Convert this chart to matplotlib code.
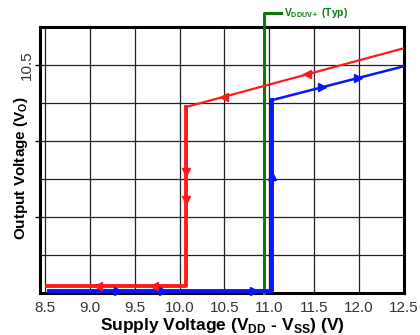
import matplotlib
matplotlib.use("Agg")
import matplotlib.pyplot as plt

plt.rcParams['font.family'] = ['Liberation Sans', 'DejaVu Sans']
plt.rcParams['mathtext.fontset'] = 'custom'
plt.rcParams['mathtext.rm'] = 'Liberation Sans'
plt.rcParams['mathtext.bf'] = 'Liberation Sans:bold'

# Data
red_top_x = [12.5, 10.07]
red_top_y = [11.28, 8.57]
red_drop_x = [10.07, 10.07, 8.52]
red_drop_y = [8.57, 0.33, 0.33]
blue_low_x = [8.55, 11.03, 11.03]
blue_low_y = [0.12, 0.12, 8.89]
blue_top_x = [11.03, 11.03, 12.5]
blue_top_y = [8.57, 8.89, 10.45]
uvlo_x = 10.94

red_left_arrows_x = [11.42, 10.5, 9.09, 9.72]
red_down_arrows_y = [5.6, 4.3]
blue_right_arrows_x = [9.31, 9.81, 10.83, 11.59, 11.99]
blue_up_arrows_y = [5.4]

xticks = [8.5, 9.0, 9.5, 10.0, 10.5, 11.0, 11.5, 12.0, 12.5]
xtick_labels = ['8.5', '9.0', '9.5', '10.0', '10.5', '11.0', '11.5', '12.0', '12.5']
ygrid = [1.75, 3.5, 5.25, 7.0, 8.75, 10.5]
yticks_major = [3.5, 7.0, 10.5]
ytick_labels = ['', '', '10.5']

RED = '#ff1a1a'
BLUE = '#0a14ff'
GREEN = '#0a7a0a'

fig = plt.figure(figsize=(4.2, 3.35), dpi=100)
ax = fig.add_axes([0.095, 0.125, 0.867, 0.794])
ax.set_xlim(8.444, 12.5)
ax.set_ylim(0, 12.25)

ax.set_xticks(xticks)
ax.set_xticklabels(xtick_labels)
ax.set_yticks(yticks_major)
ax.set_yticklabels(ytick_labels, rotation=90, va='center')
ax.set_yticks([v for v in ygrid if v not in yticks_major], minor=True)
ax.grid(True, which='both', color='#222222', linewidth=0.9)
ax.set_axisbelow(True)
ax.tick_params(axis='x', length=0, pad=6, labelsize=11, labelcolor='#333333')
ax.tick_params(axis='y', which='major', length=3.5, width=1, direction='out', pad=0.5,
               labelsize=11, labelcolor='#333333')
ax.tick_params(axis='y', which='minor', length=0)
for s in ax.spines.values():
    s.set_linewidth(2.2)

# UVLO marker
ax.plot([uvlo_x, uvlo_x, uvlo_x + 0.19], [0, 12.9, 12.9], color=GREEN, lw=2.2,
        clip_on=False, zorder=3)
ax.text(uvlo_x + 0.22, 12.88, r'V$_{\mathbf{DDUV+}}$ (Typ)', color=GREEN, fontsize=7.4,
        fontweight='bold', va='center', ha='left')

# Curves
ax.plot(red_top_x, red_top_y, color=RED, lw=1.6, zorder=4, solid_capstyle='butt')
ax.plot(red_drop_x, red_drop_y, color=RED, lw=2.8, zorder=4)
ax.plot(blue_low_x, blue_low_y, color=BLUE, lw=2.8, zorder=4, clip_on=False)
ax.plot(blue_top_x, blue_top_y, color=BLUE, lw=1.8, zorder=4)

# Direction arrows
def red_top_y_at(x):
    x0, x1 = red_top_x[1], red_top_x[0]
    y0, y1 = red_top_y[1], red_top_y[0]
    return y0 + (x - x0) * (y1 - y0) / (x1 - x0)

def blue_top_y_at(x):
    x0, x1 = blue_top_x[1], blue_top_x[2]
    y0, y1 = blue_top_y[1], blue_top_y[2]
    return y0 + (x - x0) * (y1 - y0) / (x1 - x0)

for x in red_left_arrows_x:
    y = red_top_y_at(x) if x > red_drop_x[0] else red_drop_y[-1]
    ax.plot([x], [y], marker='<', color=RED, ms=5.5, zorder=5)
for y in red_down_arrows_y:
    ax.plot([red_drop_x[0]], [y], marker='v', color=RED, ms=5.5, zorder=5)
for x in blue_right_arrows_x:
    y = blue_top_y_at(x) if x > blue_low_x[1] else blue_low_y[0]
    ax.plot([x], [y], marker='>', color=BLUE, ms=5.5, zorder=5, clip_on=False)
for y in blue_up_arrows_y:
    ax.plot([blue_low_x[1]], [y], marker='^', color=BLUE, ms=5.5, zorder=5)

ax.set_xlabel(r'Supply Voltage (V$_{\mathbf{DD}}$ - V$_{\mathbf{SS}}$) (V)',
              fontsize=12.5, fontweight='bold', va='baseline')
ax.set_ylabel(r'Output Voltage (V$_{\mathbf{O}}$)', fontsize=11, fontweight='bold',
              va='center')
ax.xaxis.set_label_coords(0.5, -0.139)
ax.yaxis.set_label_coords(-0.052, 0.47)

fig.savefig('out.png', dpi=100)
